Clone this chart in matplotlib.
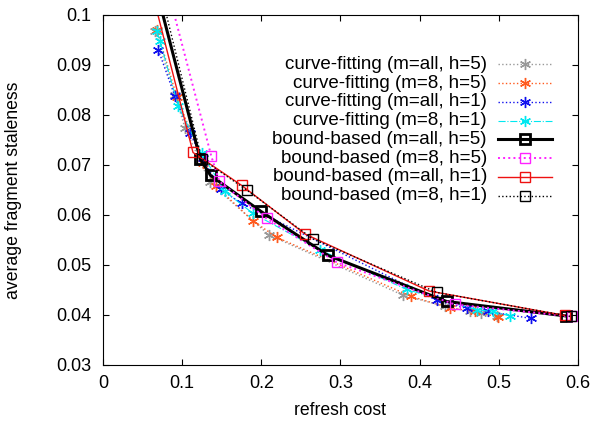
import matplotlib
matplotlib.use('Agg')
import matplotlib.pyplot as plt

plt.rcParams['font.family'] = ['Liberation Sans', 'DejaVu Sans']
plt.rcParams['font.size'] = 13

# curve-fitting series
cf_all_h5_x = [0.0657, 0.0909, 0.1036, 0.1349, 0.2097, 0.3784, 0.4320, 0.4633, 0.4775, 0.4977]
cf_all_h5_y = [0.0967, 0.0840, 0.0774, 0.0665, 0.0560, 0.0440, 0.0417, 0.0407, 0.0403, 0.0398]

cf_8_h5_x = [0.0682, 0.0935, 0.1263, 0.1430, 0.1895, 0.2198, 0.3895, 0.4381, 0.4699, 0.4987]
cf_8_h5_y = [0.0970, 0.0835, 0.0704, 0.0657, 0.0588, 0.0555, 0.0437, 0.0414, 0.0407, 0.0396]

cf_all_h1_x = [0.0699, 0.0909, 0.1096, 0.1258, 0.1486, 0.1753, 0.4219, 0.4593, 0.4866, 0.5411]
cf_all_h1_y = [0.0930, 0.0837, 0.0764, 0.0713, 0.0651, 0.0623, 0.0429, 0.0413, 0.0407, 0.0393]

cf_8_h1_x = [0.0678, 0.0722, 0.0952, 0.1248, 0.1541, 0.1895, 0.2744, 0.3835, 0.4724, 0.4926, 0.5138]
cf_8_h1_y = [0.0967, 0.0947, 0.0817, 0.0723, 0.0647, 0.0603, 0.0530, 0.0451, 0.0410, 0.0407, 0.0398]

# bound-based series
bb_all_h5_x = [0.0610, 0.1228, 0.1359, 0.1996, 0.2845, 0.4340, 0.5850]
bb_all_h5_y = [0.1090, 0.0712, 0.0679, 0.0607, 0.0519, 0.0427, 0.0398]

bb_8_h5_x = [0.0753, 0.1369, 0.1470, 0.2066, 0.2956, 0.4446, 0.5920]
bb_8_h5_y = [0.1090, 0.0717, 0.0667, 0.0593, 0.0505, 0.0421, 0.0397]

bb_all_h1_x = [0.0581, 0.1137, 0.1753, 0.2551, 0.4118, 0.5836]
bb_all_h1_y = [0.1070, 0.0725, 0.0659, 0.0562, 0.0448, 0.0399]

bb_8_h1_x = [0.0662, 0.1248, 0.1814, 0.2653, 0.4219, 0.5907]
bb_8_h1_y = [0.1090, 0.0712, 0.0650, 0.0552, 0.0445, 0.0397]

labels = ['curve-fitting (m=all, h=5)', 'curve-fitting (m=8, h=5)',
          'curve-fitting (m=all, h=1)', 'curve-fitting (m=8, h=1)',
          'bound-based (m=all, h=5)', 'bound-based (m=8, h=5)',
          'bound-based (m=all, h=1)', 'bound-based (m=8, h=1)']

star = (6, 2, 0)
styles = [
    dict(ls=':', color='#999999', lw=1, marker=star, ms=8, mew=1),
    dict(ls=':', color='#ff5a1e', lw=1, marker=star, ms=8, mew=1),
    dict(ls=':', color='#1010ee', lw=1, marker=star, ms=8, mew=1),
    dict(ls='-.', color='#00e8f0', lw=0.8, marker=star, ms=8, mew=1),
    dict(ls='-', color='black', lw=2.2, marker='s', ms=7, mew=2, mfc='none'),
    dict(ls=':', color='#ff22ff', lw=1.4, marker='s', ms=7, mew=1, mfc='none'),
    dict(ls='-', color='#ee1111', lw=1, marker='s', ms=7, mew=1, mfc='none'),
    dict(ls=':', color='black', lw=1, marker='s', ms=7, mew=1, mfc='none'),
]
xs = [cf_all_h5_x, cf_8_h5_x, cf_all_h1_x, cf_8_h1_x, bb_all_h5_x, bb_8_h5_x, bb_all_h1_x, bb_8_h1_x]
ys = [cf_all_h5_y, cf_8_h5_y, cf_all_h1_y, cf_8_h1_y, bb_all_h5_y, bb_8_h5_y, bb_all_h1_y, bb_8_h1_y]

fig = plt.figure(figsize=(5.95, 4.24), dpi=100)
ax = fig.add_axes([0.1731, 0.1392, 0.7983, 0.8255])

for i in range(8):
    ax.plot(xs[i], ys[i], **styles[i])

# gnuplot style key: text right-aligned, sample to the right
for i in range(8):
    yk = 0.8591 - i * 0.05363
    ax.text(0.8084, yk, labels[i], transform=ax.transAxes, ha='right', va='center', fontsize=13.5)
    st = dict(styles[i])
    st.pop('marker')
    ax.plot([0.8316, 0.9453], [yk, yk], transform=ax.transAxes, clip_on=False, **st)
    st = dict(styles[i])
    st['ls'] = 'none'
    ax.plot([0.8884], [yk], transform=ax.transAxes, clip_on=False, **st)

ax.set_xlim(0, 0.6)
ax.set_ylim(0.03, 0.1)
ax.set_xticks([0, 0.1, 0.2, 0.3, 0.4, 0.5, 0.6])
ax.set_xticklabels(['0', '0.1', '0.2', '0.3', '0.4', '0.5', '0.6'])
ax.set_yticks([0.03, 0.04, 0.05, 0.06, 0.07, 0.08, 0.09, 0.1])
ax.set_yticklabels(['0.03', '0.04', '0.05', '0.06', '0.07', '0.08', '0.09', '0.1'])
ax.tick_params(direction='in', length=4, top=True, right=True, labelsize=13)
ax.tick_params(axis='x', pad=7)
ax.tick_params(axis='y', pad=8.5)
ax.set_xlabel('refresh cost', fontsize=12.7)
ax.set_ylabel('average fragment staleness', fontsize=12.7)
ax.xaxis.set_label_coords(0.5, -0.105)
ax.yaxis.set_label_coords(-0.17, 0.5)

fig.savefig('out.png', dpi=100)
